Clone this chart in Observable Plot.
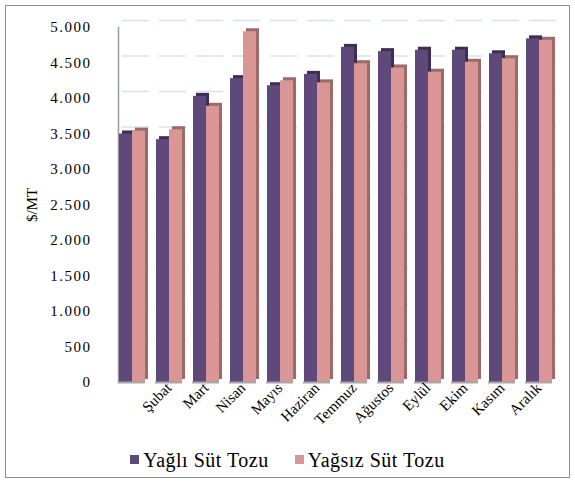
<!DOCTYPE html>
<html><head><meta charset="utf-8">
<script src="https://cdn.jsdelivr.net/npm/d3@7"></script>
<script src="https://cdn.jsdelivr.net/npm/@observablehq/plot@0.6"></script>
<style>
body{margin:0;background:#fff;font-family:"Liberation Serif","Times New Roman","DejaVu Serif",serif;}
#frame{position:absolute;left:5px;top:5px;width:563px;height:471px;border:1px solid #8c8c8c;background:#fff;}
#legend{position:absolute;left:0;top:443px;width:100%;text-align:center;font-size:20px;letter-spacing:0.5px;color:#000;}
#legend span.sw{display:inline-block;width:9px;height:9px;margin-right:4px;vertical-align:3px;}
#legend .item{margin:0 13px;}
</style></head>
<body>
<div id="frame"><div id="chart"></div><div id="legend"></div></div>
<script>
const months = ["Ocak","Şubat","Mart","Nisan","Mayıs","Haziran","Temmuz","Ağustos","Eylül","Ekim","Kasım","Aralık"];
const monthLabels = ["","Şubat","Mart","Nisan","Mayıs","Haziran","Temmuz","Ağustos","Eylül","Ekim","Kasım","Aralık"];
const seriesNames = ["Yağlı Süt Tozu","Yağsız Süt Tozu"];
const yagli = [3500,3420,4030,4280,4180,4340,4720,4660,4680,4680,4630,4840];
const yagsiz = [3540,3560,3890,4940,4250,4220,4490,4430,4370,4510,4560,4820];
const yTicks = [0,500,1000,1500,2000,2500,3000,3500,4000,4500,5000];
const colors = ["#5F497A","#D99694"];
const sideColors = ["#3E2F52","#9C6A68"];

const data = [];
months.forEach((m,i)=>{
  data.push({month:m, series:seriesNames[0], value:yagli[i]});
  data.push({month:m, series:seriesNames[1], value:yagsiz[i]});
});
const fmt = d => d3.format(",")(d).replace(/,/g,".");
const labelOf = new Map(months.map((m,i)=>[m,monthLabels[i]]));
const serif = "'Liberation Serif','Times New Roman','DejaVu Serif',serif";

const chart = Plot.plot({
  width:563, height:432,
  marginLeft:105, marginRight:10, marginTop:21, marginBottom:56,
  style:{fontFamily:serif, fontSize:"15px", background:"transparent"},
  y:{domain:[0,5000]},
  fx:{domain:months, paddingInner:0.26, paddingOuter:0.12},
  x:{domain:seriesNames, axis:null, padding:0},
  color:{domain:seriesNames, range:colors},
  marks:[
    Plot.gridY(yTicks,{stroke:"#D5E1F0", strokeOpacity:1, strokeWidth:1.5, dy:-7, dx:4, facet:"exclude"}),
    Plot.frame({anchor:"left", stroke:"#9a9a9a", strokeWidth:1.5, facet:"super"}),
    Plot.barY(data,{fx:"month", x:"series", y:"value", fill:d=>sideColors[seriesNames.indexOf(d.series)], dx:3, dy:-3}),
    Plot.barY(data,{fx:"month", x:"series", y:"value", fill:"series"}),
    Plot.ruleY([0],{stroke:"#a6a6a6", strokeWidth:2}),
    Plot.axisY(yTicks,{tickFormat:fmt, tickSize:0, tickPadding:27, fontSize:15, fontFamily:serif, label:"$/MT", labelAnchor:"center", labelArrow:"none", labelOffset:92}),
    Plot.axisFx({anchor:"bottom", tickFormat:d=>labelOf.get(d), tickRotate:-45, tickSize:0, tickPadding:3, fontSize:15, fontFamily:serif, label:null})
  ]
});
chart.querySelectorAll("g[aria-label='y-axis tick label'] text").forEach(t=>t.setAttribute("letter-spacing","1.5"));
document.getElementById("chart").appendChild(chart);

const lg = document.getElementById("legend");
seriesNames.forEach((s,i)=>{
  const it = document.createElement("span");
  it.className="item";
  it.innerHTML = `<span class="sw" style="background:${colors[i]}"></span>${s}`;
  lg.appendChild(it);
});
</script>
</body></html>
